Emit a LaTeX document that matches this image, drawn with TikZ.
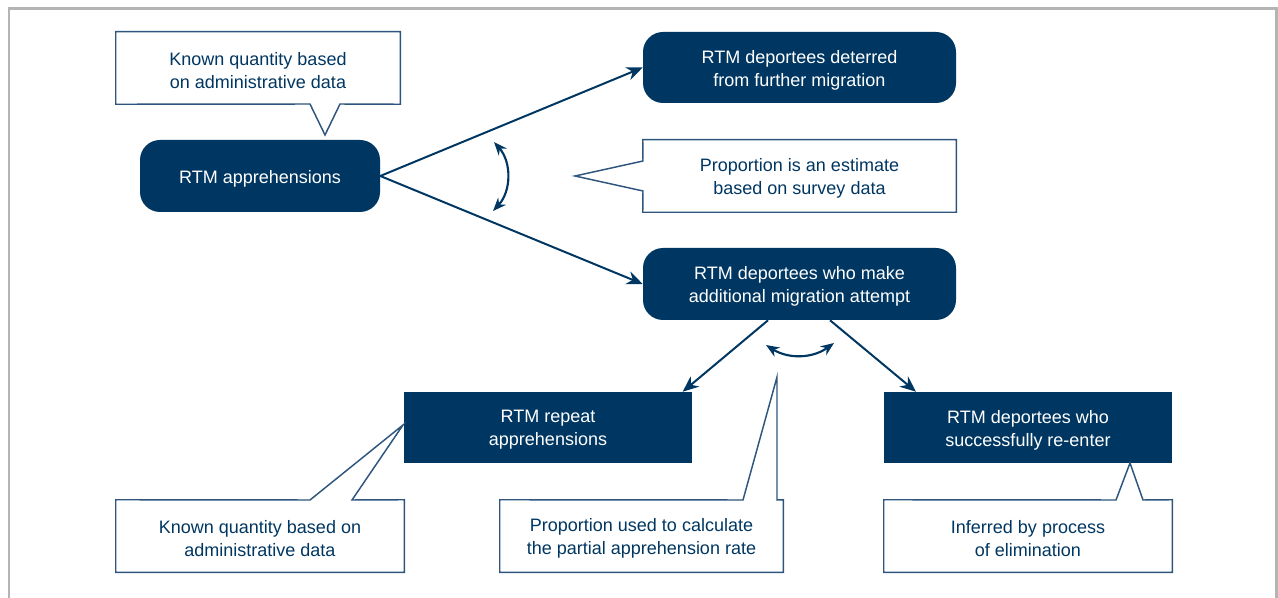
\documentclass[tikz,border=0pt]{standalone}
\usepackage{fontspec}
\setmainfont{Liberation Sans}
\usetikzlibrary{arrows.meta}
\definecolor{navy}{RGB}{0,55,98}
\definecolor{cline}{RGB}{45,85,125}
\definecolor{frame}{RGB}{180,180,180}
\tikzset{
  dark/.style={fill=navy, draw=none, inner sep=0pt},
  roundbox/.style={dark, rounded corners=15pt},
  darktext/.style={text=white, align=center, inner sep=0pt,
    font=\fontsize{13.5}{17.25}\selectfont},
  callnode/.style={draw=none, inner sep=0pt},
  calltext/.style={align=center, inner sep=0pt, text=navy,
    font=\fontsize{13.5}{17.25}\selectfont},
  callout/.style={draw=cline, line width=1.1pt, fill=white, line join=miter},
  conn/.style={draw=navy, line width=1.5pt, -{Stealth[length=12pt,width=10pt]}},
  twoway/.style={draw=navy, line width=1.6pt, {Stealth[length=10pt,width=8pt]}-{Stealth[length=10pt,width=8pt]}}
}
\begin{document}
\begin{tikzpicture}[x=0.75pt,y=-0.75pt]
\useasboundingbox (0,0) rectangle (1278,598);
% frame
\draw[frame, line width=2.2pt] (9,600) -- (9,8.5) -- (1276.5,8.5) -- (1276.5,600);

% main boxes
\node[roundbox, minimum width=180pt, minimum height=54pt] (app) at (260,176) {};
\node[roundbox, minimum width=234.75pt, minimum height=53.25pt] (det) at (799.5,67.5) {};
\node[roundbox, minimum width=234.75pt, minimum height=54pt] (add) at (799.5,284) {};
\node[dark, minimum width=216pt, minimum height=53.25pt] (rep) at (548,427.5) {};
\node[dark, minimum width=216pt, minimum height=53.25pt] (ree) at (1028,427.5) {};
\node[darktext] (appt) at ([yshift=-2.5pt]app.center) {RTM apprehensions};
\node[darktext] (dett) at ([yshift=-2pt]det.center) {RTM deportees deterred\\from further migration};
\node[darktext] (addt) at ([yshift=-2pt]add.center) {RTM deportees who make\\additional migration attempt};
\node[darktext] (rept) at ([yshift=-2pt]rep.center) {RTM repeat\\apprehensions};
\node[darktext] (reet) at ([yshift=-2pt]ree.center) {RTM deportees who\\successfully re-enter};

% callout frames
\node[callnode, minimum width=213pt, minimum height=54pt] (c1) at (258,68) {};
\node[callnode, minimum width=234.75pt, minimum height=54pt] (c2) at (799.5,176) {};
\node[callnode, minimum width=216pt, minimum height=54pt] (c3) at (260,536) {};
\node[callnode, minimum width=212.25pt, minimum height=54pt] (c4) at (641.5,536) {};
\node[callnode, minimum width=216pt, minimum height=54pt] (c5) at (1028,536) {};

\coordinate (p1) at (325,135);
\coordinate (p2) at (575,176);
\coordinate (p3) at (403,425);
\coordinate (p4) at (777,377);
\coordinate (p5) at (1130,463);

\draw[callout] (c1.north west) -- (c1.north east) -- (c1.south east) -- (340,104) -- (p1) -- (310,104) -- (c1.south west) -- cycle;
\draw[callout] (c2.north west) -- (c2.north east) -- (c2.south east) -- (c2.south west) -- (643,191) -- (p2) -- (643,161) -- cycle;
\draw[callout] (c3.north west) -- (310,500) -- (p3) -- (352,500) -- (c3.north east) -- (c3.south east) -- (c3.south west) -- cycle;
\draw[callout] (c4.north west) -- (743,500) -- (p4) -- (777,500) -- (c4.north east) -- (c4.south east) -- (c4.south west) -- cycle;
\draw[callout] (c5.north west) -- (1116,500) -- (p5) -- (1143,500) -- (c5.north east) -- (c5.south east) -- (c5.south west) -- cycle;

\node[calltext] (t1) at ([yshift=-2pt]c1.center) {Known quantity based\\on administrative data};
\node[calltext] (t2) at ([yshift=-2pt]c2.center) {Proportion is an estimate\\based on survey data};
\node[calltext] (t3) at ([yshift=-2pt]c3.center) {Known quantity based on\\administrative data};
\node[calltext] (t4) at ([yshift=-2pt]c4.center) {Proportion used to calculate\\the partial apprehension rate};
\node[calltext] (t5) at ([yshift=-2pt]c5.center) {Inferred by process\\of elimination};

% connectors
\draw[conn] (app.east) -- (det.west);
\draw[conn] (app.east) -- (add.west);
\draw[conn] ([xshift=-23.6pt]add.south) -- ([xshift=101pt]rep.north);
\draw[conn] ([xshift=22.9pt]add.south) -- ([xshift=-84pt]ree.north);

% two-way arcs
\coordinate (a1) at (494,142);
\coordinate (a2) at (493,211);
\draw[twoway] (a1) to[bend left=42] (a2);
\coordinate (b1) at (766,345);
\coordinate (b2) at (834,343);
\draw[twoway] (b1) to[bend right=34] (b2);
\end{tikzpicture}
\end{document}
